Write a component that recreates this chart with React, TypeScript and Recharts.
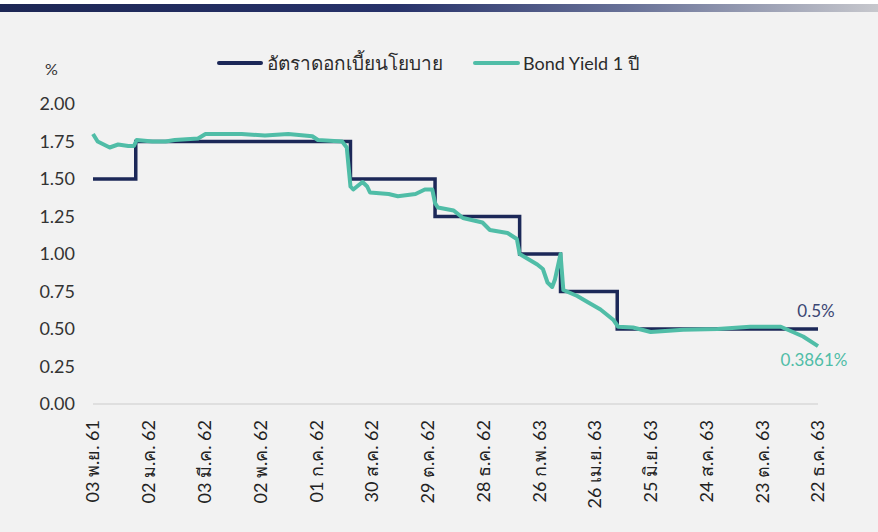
import React from "react";
import { LineChart, Line, XAxis, YAxis, ReferenceDot } from "recharts";

// ช่วงวันนับจาก 03 พ.ย. 61 (วันที่ 0)
const tickDays = [0, 60, 120, 180, 240, 300, 360, 420, 480, 540, 600, 660, 720, 780];
const tickLabels = [
  "03 พ.ย. 61",
  "02 ม.ค. 62",
  "03 มี.ค. 62",
  "02 พ.ค. 62",
  "01 ก.ค. 62",
  "30 ส.ค. 62",
  "29 ต.ค. 62",
  "28 ธ.ค. 62",
  "26 ก.พ. 63",
  "26 เม.ย. 63",
  "25 มิ.ย. 63",
  "24 ส.ค. 63",
  "23 ต.ค. 63",
  "22 ธ.ค. 63",
];
const yTicks = [0, 0.25, 0.5, 0.75, 1, 1.25, 1.5, 1.75, 2];

// อัตราดอกเบี้ยนโยบาย (จุดเปลี่ยนขั้น)
const policyDays = [0, 46, 277, 368, 459, 503, 564, 780];
const policyRates = [1.5, 1.75, 1.5, 1.25, 1.0, 0.75, 0.5, 0.5];

// Bond Yield 1 ปี
const yieldDays = [
  0, 5, 18, 27, 38, 44, 47, 64, 78, 88, 113, 121, 135, 160, 185, 210, 236, 242,
  268, 273, 277, 280, 290, 295, 298, 318, 328, 347, 357, 365, 368, 371, 388,
  398, 419, 427, 446, 456, 459, 478, 484, 489, 494, 497, 503, 506, 521, 532,
  546, 560, 565, 581, 600, 635, 672, 707, 740, 753, 764, 780,
];
const yieldValues = [
  1.8, 1.75, 1.71, 1.73, 1.72, 1.72, 1.76, 1.75, 1.75, 1.76, 1.77, 1.8, 1.8,
  1.8, 1.79, 1.8, 1.785, 1.76, 1.75, 1.71, 1.45, 1.43, 1.48, 1.45, 1.41, 1.4,
  1.385, 1.4, 1.43, 1.43, 1.34, 1.31, 1.29, 1.24, 1.21, 1.16, 1.14, 1.1, 1.0,
  0.93, 0.9, 0.81, 0.78, 0.83, 1.0, 0.76, 0.72, 0.68, 0.63, 0.56, 0.515, 0.51,
  0.48, 0.495, 0.5, 0.515, 0.515, 0.48, 0.45, 0.3861,
];

const policyData = policyDays.map((d, i) => ({ day: d, rate: policyRates[i] }));
const yieldData = yieldDays.map((d, i) => ({ day: d, yield: yieldValues[i] }));

const NAVY = "#1c2858";
const TEAL = "#50bda7";
const FONT = "Lato, 'Noto Sans', 'DejaVu Sans', sans-serif";

const XTick = ({ x, y, payload }: any) => {
  const idx = tickDays.indexOf(payload.value);
  return (
    <g transform={`translate(${x},${y})`}>
      <text
        transform="rotate(-90)"
        x={-8}
        y={0}
        dy="0.36em"
        textAnchor="end"
        fill="#222"
        fontSize={18}
        fontFamily={FONT}
      >
        {tickLabels[idx]}
      </text>
    </g>
  );
};

export default function App() {
  return (
    <div
      style={{
        position: "relative",
        width: 878,
        height: 532,
        background: "#f2f2f2",
        fontFamily: FONT,
        overflow: "hidden",
      }}
    >
      <style>{`body{margin:0}`}</style>
      <div style={{ position: "absolute", left: 0, top: 0, width: 878, height: 4, background: "#fff" }} />
      <div
        style={{
          position: "absolute",
          left: 0,
          top: 4,
          width: 878,
          height: 8,
          background: "linear-gradient(to right, #1d2755 0%, #27326a 45%, #6a7399 72%, #c7c8cd 100%)",
        }}
      />
      {/* legend */}
      <div style={{ position: "absolute", top: 48, left: 217, display: "flex", alignItems: "center", fontSize: 17, color: "#2b2b2b" }}>
        <span style={{ display: "inline-block", width: 46, height: 4, background: NAVY, borderRadius: 2, marginRight: 4 }} />
        <span style={{ fontSize: 19 }}>อัตราดอกเบี้ยนโยบาย</span>
        <span style={{ display: "inline-block", width: 47, height: 4, background: TEAL, borderRadius: 2, marginLeft: 30, marginRight: 3 }} />
        <span style={{ fontSize: 18 }}>Bond Yield 1 ปี</span>
      </div>
      <div style={{ position: "absolute", left: 45, top: 59, fontSize: 16, color: "#333" }}>%</div>
      <LineChart
        width={878}
        height={532}
        margin={{ top: 104, right: 60, bottom: 8, left: 0 }}
        style={{ position: "absolute", left: 0, top: 0 }}
      >
        <XAxis
          dataKey="day"
          type="number"
          domain={[0, 780]}
          ticks={tickDays}
          tick={<XTick />}
          tickLine={false}
          axisLine={{ stroke: "#d9d9d9", strokeWidth: 1.5 }}
          height={120}
          interval={0}
          allowDuplicatedCategory={false}
        />
        <YAxis
          type="number"
          domain={[0, 2]}
          ticks={yTicks}
          tickFormatter={(v: number) => v.toFixed(2)}
          tick={{ fill: "#333", fontSize: 18, fontFamily: FONT }}
          tickLine={false}
          axisLine={false}
          tickMargin={12}
          width={93}
        />
        <Line
          data={policyData}
          dataKey="rate"
          type="stepAfter"
          stroke={NAVY}
          strokeWidth={3.5}
          dot={false}
          isAnimationActive={false}
        />
        <Line
          data={yieldData}
          dataKey="yield"
          type="linear"
          stroke={TEAL}
          strokeWidth={4}
          strokeLinejoin="round"
          dot={false}
          isAnimationActive={false}
        />
        <ReferenceDot
          x={780}
          y={0.5}
          r={0}
          stroke="none"
          label={{ value: "0.5%", position: "top", offset: 12, fill: "#3b4672", fontSize: 17, fontFamily: FONT, dx: -2 }}
        />
        <ReferenceDot
          x={780}
          y={0.3861}
          r={0}
          stroke="none"
          label={{ value: "0.3861%", position: "bottom", offset: 8, fill: TEAL, fontSize: 17, fontFamily: FONT, dx: -4 }}
        />
      </LineChart>
    </div>
  );
}
